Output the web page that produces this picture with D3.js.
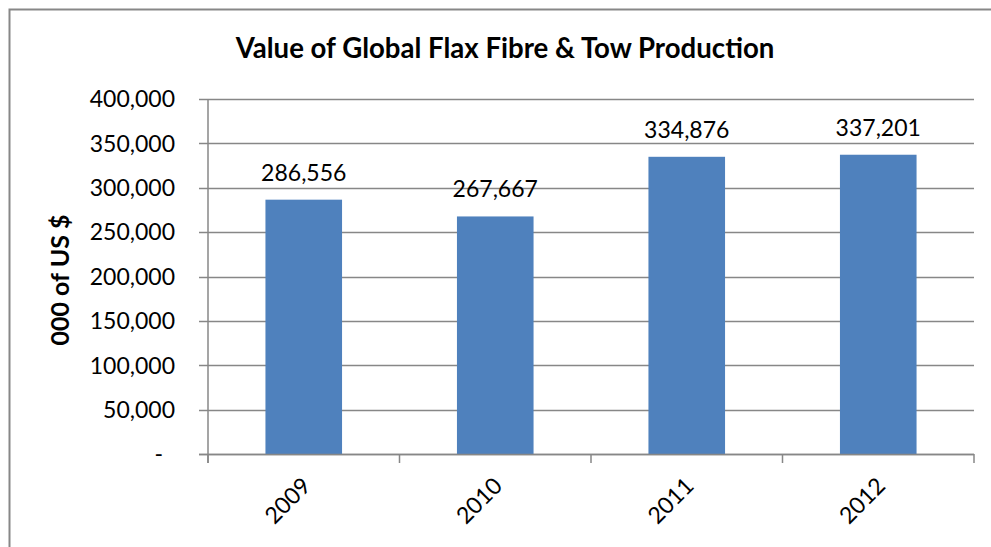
<!DOCTYPE html>
<html><head><meta charset="utf-8">
<script src="https://cdn.jsdelivr.net/npm/d3@7"></script>
<style>body{margin:0;background:#fff}svg{display:block}</style>
</head><body>
<script>
const categories = ["2009","2010","2011","2012"];
const values = [286556, 267667, 334876, 337201];
const yTicks = [0,50000,100000,150000,200000,250000,300000,350000,400000];
const title = "Value of Global Flax Fibre & Tow Production";
const yTitle = "000 of US $";

const W=991,H=547;
const svg=d3.select("body").append("svg").attr("width",W).attr("height",H);
const font="Lato, 'Open Sans', sans-serif";
svg.append("rect").attr("x",9.5).attr("y",9.5).attr("width",1000).attr("height",600)
  .attr("fill","#fff").attr("stroke","#878787").attr("stroke-width",2);

const m={l:208,r:974,t:99,b:454};
const x=d3.scaleBand().domain(categories).range([m.l,m.r]).paddingInner(0.6).paddingOuter(0.3);
const y=d3.scaleLinear().domain([0,400000]).range([m.b,m.t]);
const fmt=v=>v===0?"-":d3.format(",")(v);

// gridlines
svg.append("g").selectAll("line").data(yTicks).join("line")
  .attr("x1",m.l-9).attr("x2",m.r).attr("y1",d=>Math.round(y(d))+0.5).attr("y2",d=>Math.round(y(d))+0.5)
  .attr("stroke","#878787").attr("stroke-width",1.5);

// y axis labels
svg.append("g").selectAll("text").data(yTicks).join("text")
  .attr("x",d=>d===0?163:175).attr("y",d=>y(d)).attr("dy","0.36em").attr("text-anchor","end")
  .attr("font-family",font).attr("font-size",23).attr("fill","#000").text(fmt);

// bars
svg.append("g").selectAll("rect").data(values).join("rect")
  .attr("x",(d,i)=>x(categories[i])).attr("width",x.bandwidth())
  .attr("y",d=>y(d)).attr("height",d=>y(0)-y(d)).attr("fill","#4F81BD");

// axes lines
svg.append("line").attr("x1",m.l).attr("x2",m.l).attr("y1",m.t).attr("y2",m.b+9)
  .attr("stroke","#878787").attr("stroke-width",1.5);
svg.append("line").attr("x1",m.l-9).attr("x2",m.r).attr("y1",m.b+0.5).attr("y2",m.b+0.5)
  .attr("stroke","#878787").attr("stroke-width",1.5);
const step=x.step();
const xt=d3.range(categories.length+1).map(i=>m.l+i*step);
svg.append("g").selectAll("line").data(xt).join("line")
  .attr("x1",d=>d).attr("x2",d=>d).attr("y1",m.b).attr("y2",m.b+9)
  .attr("stroke","#878787").attr("stroke-width",1.5);

// data labels
svg.append("g").selectAll("text").data(values).join("text")
  .attr("x",(d,i)=>x(categories[i])+x.bandwidth()/2).attr("y",d=>y(d)-19)
  .attr("text-anchor","middle").attr("font-family",font).attr("font-size",23).attr("fill","#000")
  .text(d=>d3.format(",")(d));

// x labels
svg.append("g").selectAll("text").data(categories).join("text")
  .attr("transform",d=>`translate(${x(d)+x.bandwidth()/2-3},${m.b+22}) rotate(-45)`)
  .attr("text-anchor","end").attr("dy","0.7em").attr("font-family",font).attr("font-size",23).attr("fill","#000")
  .text(d=>d);

// title
svg.append("text").attr("x",505).attr("y",58).attr("text-anchor","middle")
  .attr("font-family",font).attr("font-weight","bold").attr("font-size",27.6).text(title);

// y title
svg.append("text").attr("transform","translate(69,280) rotate(-90)").attr("text-anchor","middle")
  .attr("font-family",font).attr("font-weight","bold").attr("font-size",25).text(yTitle);
</script>
</body></html>
